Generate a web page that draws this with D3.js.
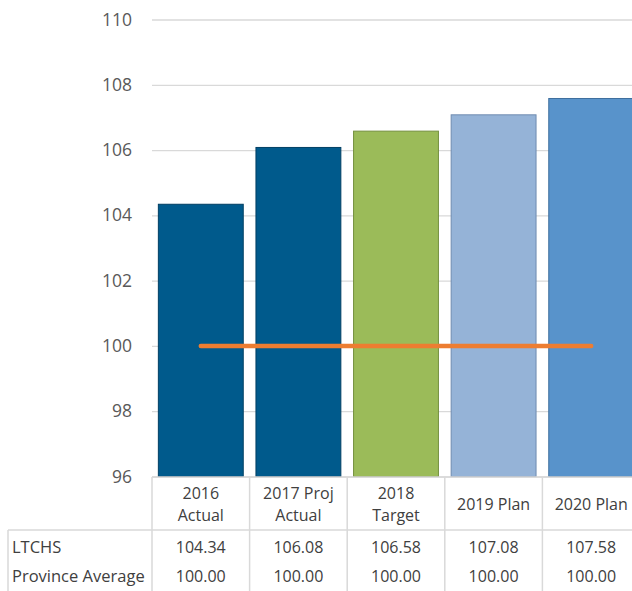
<!DOCTYPE html>
<html>
<head>
<meta charset="utf-8">
<script src="https://cdn.jsdelivr.net/npm/d3@7"></script>
<style>
  body { margin: 0; background: #fff; }
  svg { display: block; font-family: 'Open Sans', sans-serif; }
</style>
</head>
<body>
<script>
const width = 632
const height = 591

const categories = ['2016 Actual', '2017 Proj Actual', '2018 Target', '2019 Plan', '2020 Plan']
const headerLines = [['2016', 'Actual'], ['2017 Proj', 'Actual'], ['2018', 'Target'], ['2019 Plan'], ['2020 Plan']]
const ltchs = [104.34, 106.08, 106.58, 107.08, 107.58]
const provinceAvg = [100.00, 100.00, 100.00, 100.00, 100.00]
const barColors = ['#005a8c', '#005a8c', '#9bbb59', '#95b3d7', '#5893cb']
const barStrokes = ['#003f63', '#003f63', '#74903f', '#6f8bb0', '#3f6f9e']
const yTicks = [96, 98, 100, 102, 104, 106, 108, 110]

const plotLeft = 152
const plotRight = 640 // the chart runs past the window edge
const plotTop = 19.5
const plotBottom = 476.5

const svg = d3.select('body').append('svg')
  .attr('width', width)
  .attr('height', height)

const x = d3.scaleBand()
  .domain(categories)
  .range([plotLeft, plotRight])
  .paddingInner(0.12)
  .paddingOuter(0.06)

const y = d3.scaleLinear()
  .domain([96, 110])
  .range([plotBottom, plotTop])

// gridlines + tick labels
const yAxis = d3.axisLeft(y)
  .tickValues(yTicks)
  .tickSize(-(plotRight - plotLeft))
  .tickPadding(20)

svg.append('g')
  .attr('transform', `translate(${plotLeft},0)`)
  .call(yAxis)
  .call(g => g.select('.domain').remove())
  .call(g => g.selectAll('.tick line').attr('stroke', '#d9d9d9').attr('stroke-width', 1.3))
  .call(g => g.selectAll('.tick text')
    .attr('fill', '#595959')
    .attr('font-size', 17.5)
    .attr('font-family', "'Open Sans', sans-serif"))

// bars
svg.append('g').selectAll('rect')
  .data(ltchs)
  .enter().append('rect')
  .attr('x', (d, i) => x(categories[i]) + 0.5)
  .attr('y', d => y(d))
  .attr('width', x.bandwidth() - 1)
  .attr('height', d => y(96) - y(d))
  .attr('fill', (d, i) => barColors[i])
  .attr('stroke', (d, i) => barStrokes[i])
  .attr('stroke-width', 1)

// province average line
const line = d3.line()
  .x((d, i) => x(categories[i]) + x.bandwidth() / 2)
  .y(d => y(d))

svg.append('path')
  .datum(provinceAvg)
  .attr('d', line)
  .attr('fill', 'none')
  .attr('stroke', '#ed7d31')
  .attr('stroke-width', 4.5)
  .attr('stroke-linecap', 'round')

// data table
const tbl = svg.append('g')
  .attr('stroke', '#d9d9d9')
  .attr('stroke-width', 1.5)
const rowTop = 530
const cellEdges = categories.map(c => x(c) - x.step() * x.paddingInner() / 2)

tbl.append('line').attr('x1', plotLeft).attr('x2', width).attr('y1', 477).attr('y2', 477)
tbl.append('line').attr('x1', 8).attr('x2', width).attr('y1', rowTop).attr('y2', rowTop)
tbl.append('line').attr('x1', 8).attr('x2', 8).attr('y1', rowTop).attr('y2', height)
tbl.selectAll('.vline')
  .data(cellEdges)
  .enter().append('line')
  .attr('x1', d => d).attr('x2', d => d)
  .attr('y1', 477).attr('y2', height)

const txt = svg.append('g')
  .attr('fill', '#404040')
  .attr('font-size', 16)

headerLines.forEach((lines, i) => {
  const cx = x(categories[i]) + x.bandwidth() / 2
  const baseY = lines.length === 2 ? 499 : 510
  lines.forEach((t, j) => {
    txt.append('text')
      .attr('x', cx)
      .attr('y', baseY + j * 22)
      .attr('text-anchor', 'middle')
      .text(t)
  })
})

const rows = [['LTCHS', ltchs], ['Province Average', provinceAvg]]
rows.forEach(([label, vals], r) => {
  const ry = 553 + r * 29
  txt.append('text').attr('x', 12).attr('y', ry).attr('font-size', 16.5).text(label)
  vals.forEach((v, i) => {
    txt.append('text')
      .attr('x', x(categories[i]) + x.bandwidth() / 2)
      .attr('y', ry)
      .attr('text-anchor', 'middle')
      .text(d3.format('.2f')(v))
  })
})
</script>
</body>
</html>
